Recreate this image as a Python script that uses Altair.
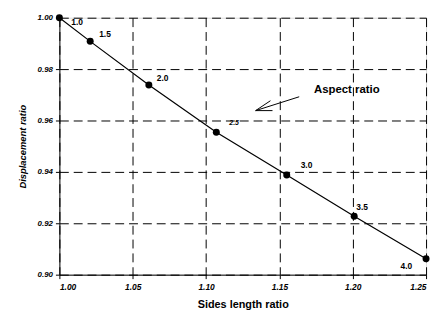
import altair as alt
import pandas as pd

# Data
aspect = ["1.0", "1.5", "2.0", "2.5", "3.0", "3.5", "4.0"]
sides = [1.000, 1.021, 1.061, 1.107, 1.155, 1.201, 1.250]
disp = [1.000, 0.9908, 0.9738, 0.9554, 0.9388, 0.9227, 0.9062]

x_ticks = [1.00, 1.05, 1.10, 1.15, 1.20, 1.25]
y_ticks = [0.90, 0.92, 0.94, 0.96, 0.98, 1.00]

note_text = ["Aspect ratio"]
note_x = [1.1736]
note_y = [0.9719]

arrow_x = [1.1635, 1.1338]
arrow_y = [0.96923, 0.96385]
head_x = [1.1439, 1.1338, 1.1453]
head_y = [0.96769, 0.96385, 0.96385]

df = pd.DataFrame({"aspect": aspect, "sides": sides, "disp": disp})
FONT = "Liberation Sans"

xs = alt.Scale(domain=[1.0, 1.25], nice=False, zero=False)
ys = alt.Scale(domain=[0.90, 1.00], nice=False, zero=False)

xax = alt.Axis(values=x_ticks, format=".2f", title="Sides length ratio",
               grid=True, gridDash=[9, 5], gridColor="black", gridOpacity=1, gridWidth=1,
               domainColor="black", tickColor="black", tickSize=4,
               labelFont=FONT, labelFontSize=8.5, labelFontWeight="bold", labelFontStyle="italic",
               labelColor="black", labelPadding=4,
               titleFont=FONT, titleFontSize=11, titleFontWeight="bold", titleColor="black",
               titlePadding=8)
yax = alt.Axis(values=y_ticks, format=".2f", title="Displacement ratio",
               grid=True, gridDash=[9, 5], gridColor="black", gridOpacity=1, gridWidth=1,
               domainColor="black", tickColor="black", tickSize=4,
               labelFont=FONT, labelFontSize=8, labelFontWeight="bold", labelFontStyle="italic",
               labelColor="black", labelPadding=3,
               titleFont=FONT, titleFontSize=9.5, titleFontWeight="bold", titleFontStyle="italic",
               titleColor="black", titlePadding=10)

base = alt.Chart(df)
line = base.mark_line(color="black", strokeWidth=1.2).encode(
    x=alt.X("sides:Q", scale=xs, axis=xax),
    y=alt.Y("disp:Q", scale=ys, axis=yax),
)
pts = base.mark_point(filled=True, color="black", opacity=1, size=50).encode(
    x=alt.X("sides:Q", scale=xs), y=alt.Y("disp:Q", scale=ys))

offsets = {"1.0": (18, 4), "1.5": (15, -7), "2.0": (14, -7), "2.5": (18, -9),
           "3.0": (20, -10), "3.5": (8, -9), "4.0": (-20, 7)}
labels = []
for a, (dx, dy) in offsets.items():
    italic = "italic" if a == "2.5" else "normal"
    fs = 7 if a == "2.5" else 8.5
    labels.append(base.transform_filter(alt.datum.aspect == a).mark_text(
        font=FONT, fontSize=fs, fontWeight="bold", fontStyle=italic, color="black",
        dx=dx, dy=dy).encode(
        x=alt.X("sides:Q", scale=xs), y=alt.Y("disp:Q", scale=ys), text="aspect:N"))

note = alt.Chart(pd.DataFrame({"t": note_text, "x": note_x, "y": note_y})).mark_text(
    font=FONT, fontSize=11.5, fontWeight="bold", color="black", align="left", baseline="middle"
).encode(x=alt.X("x:Q", scale=xs), y=alt.Y("y:Q", scale=ys), text="t:N")

arrow = alt.Chart(pd.DataFrame({"x": arrow_x, "y": arrow_y, "o": [0, 1]})).mark_line(
    color="black", strokeWidth=1).encode(
    x=alt.X("x:Q", scale=xs), y=alt.Y("y:Q", scale=ys), order="o:O")
head = alt.Chart(pd.DataFrame({"x": head_x, "y": head_y, "o": [0, 1, 2]})).mark_line(
    color="black", strokeWidth=1).encode(
    x=alt.X("x:Q", scale=xs), y=alt.Y("y:Q", scale=ys), order="o:O")

chart = alt.layer(line, pts, *labels, note, arrow, head).properties(
    width=371, height=260,
    autosize=alt.AutoSizeParams(type="none"),
    padding={"left": 52, "top": 8, "right": 5, "bottom": 40},
).configure_view(stroke="black", strokeWidth=1.2).configure(background="white")

chart.save("out.html", embed_options={"renderer": "svg", "actions": False})
